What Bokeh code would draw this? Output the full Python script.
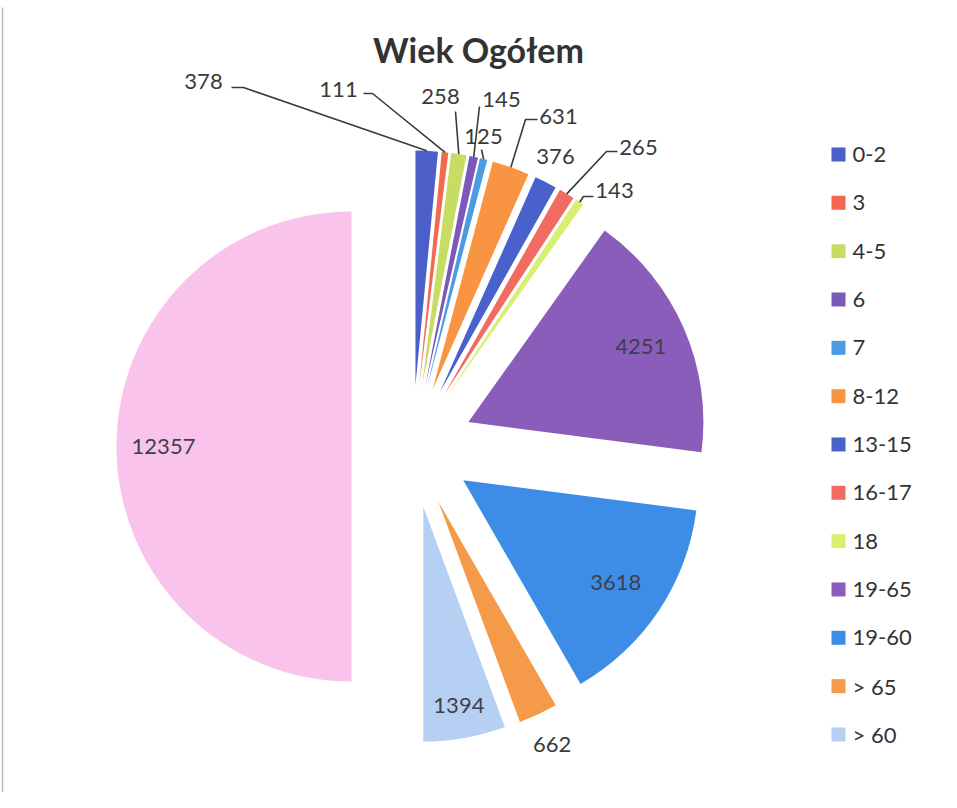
import math
from bokeh.plotting import figure
from bokeh.models import Range1d
from bokeh.core.properties import value
from bokeh.embed import file_html
from bokeh.resources import INLINE

# ---------------- data ----------------
categories = ["0-2", "3", "4-5", "6", "7", "8-12", "13-15", "16-17", "18",
              "19-65", "19-60", "> 65", "> 60"]
counts = [378, 111, 258, 145, 125, 631, 376, 265, 143, 4251, 3618, 662, 1394]
total_name = "Ogółem"
total_count = 12357
title_text = "Wiek Ogółem"

colors = ["#4C5FC9", "#F2694F", "#C6DC62", "#7C59B9", "#4B9BE3", "#F99443",
          "#4961CB", "#F26B63", "#D9EF72", "#8A5DBB", "#3D8CE5", "#F59A48",
          "#B5D0F2"]
total_color = "#F9C3EC"

# ---------------- layout ----------------
W, H = 940, 792
FONT = "Lato"
OFF = 1  # page offset of the figure (measured)


def px(X, Y):
    """reference pixel -> data coordinates"""
    return X - OFF, H - (Y - OFF)


CX, CY = px(413, 447)
R = 235
D = 61

# label layouts (reference pixels): text centre, optional leader start/elbow
leader_layout = {
    "0-2":   dict(text=(204, 82), line=[(232, 88), (244, 88)]),
    "3":     dict(text=(339, 90), line=[(364, 94), (373, 94)]),
    "4-5":   dict(text=(441, 97), line=[(456, 112)]),
    "6":     dict(text=(502, 100), line=[(480, 107)]),
    "7":     dict(text=(484, 137), line=[(482, 150)]),
    "8-12":  dict(text=(559, 117), line=[(538, 120), (526, 120)]),
    "13-15": dict(text=(556, 157), line=None),
    "16-17": dict(text=(639, 148), line=[(618, 152), (607, 152)]),
    "18":    dict(text=(615, 191), line=[(594, 197), (584, 197)]),
}
inside_factor = {"19-65": 0.80, "19-60": 0.78, "> 60": 0.86, total_name: 0.80}
outside_factor = {"> 65": 1.14}

p = figure(width=W, height=H, x_range=Range1d(0, W), y_range=Range1d(0, H),
           x_axis_type=None, y_axis_type=None, output_backend="svg",
           toolbar_location=None, min_border=0)
p.grid.visible = False
p.outline_line_color = None
p.background_fill_color = "white"
p.border_fill_color = "white"

# faint scan border on the left
bx0, by0 = px(3, 8)
bx1, by1 = px(3, 800)
p.line(x=[bx0, bx1], y=[by0, by1], line_color="#A4A4B8", line_width=1.5,
       line_alpha=0.8)

names = categories + [total_name]
vals = counts + [total_count]
cols = colors + [total_color]
tot = sum(vals)

cum = 0.0
for name, v, c in zip(names, vals, cols):
    t1 = cum / tot * 360.0
    cum += v
    t2 = cum / tot * 360.0
    tm = math.radians((t1 + t2) / 2)
    ox = CX + D * math.sin(tm)
    oy = CY + D * math.cos(tm)
    p.wedge(x=[ox], y=[oy], radius=R,
            start_angle=math.radians(90 - t2), end_angle=math.radians(90 - t1),
            fill_color=c, line_color=None)
    # outer arc midpoint
    mx = ox + R * math.sin(tm)
    my = oy + R * math.cos(tm)
    if name in leader_layout:
        lay = leader_layout[name]
        tx, ty = px(*lay["text"])
        p.text(x=[tx], y=[ty], text=[str(v)], text_font=value(FONT),
               text_font_size="22px", text_color="#3A3A3A",
               text_align="center", text_baseline="middle")
        if lay["line"]:
            xs = [px(*q)[0] for q in lay["line"]] + [mx]
            ys = [px(*q)[1] for q in lay["line"]] + [my]
            p.line(x=xs, y=ys, line_color="#3A3A3A", line_width=1.6)
    elif name in inside_factor:
        f = inside_factor[name]
        lx = ox + f * R * math.sin(tm)
        ly = oy + f * R * math.cos(tm)
        p.text(x=[lx], y=[ly], text=[str(v)], text_font=value(FONT),
               text_font_size="22px", text_color="#3F3F4A",
               text_align="center", text_baseline="middle")
    elif name in outside_factor:
        f = outside_factor[name]
        lx = ox + f * R * math.sin(tm)
        ly = oy + f * R * math.cos(tm)
        p.text(x=[lx], y=[ly], text=[str(v)], text_font=value(FONT),
               text_font_size="22px", text_color="#3A3A3A",
               text_align="center", text_baseline="middle")

# title
tx, ty = px(479, 50)
p.text(x=[tx], y=[ty], text=[title_text], text_font=value(FONT),
       text_font_size="34px", text_font_style="bold", text_color="#333333",
       text_align="center", text_baseline="middle")

# legend (manual)
for i, (name, c) in enumerate(zip(categories, colors)):
    yy = 155 + i * 48.33
    sx, sy = px(839, yy)
    p.scatter(x=[sx], y=[sy], marker="square", size=14, fill_color=c,
              line_color=None)
    lx, ly = px(853, yy)
    p.text(x=[lx], y=[ly], text=[name], text_font=value(FONT),
           text_font_size="22px", text_color="#333333",
           text_align="left", text_baseline="middle")

open("out.html", "w").write(file_html(p, INLINE))
